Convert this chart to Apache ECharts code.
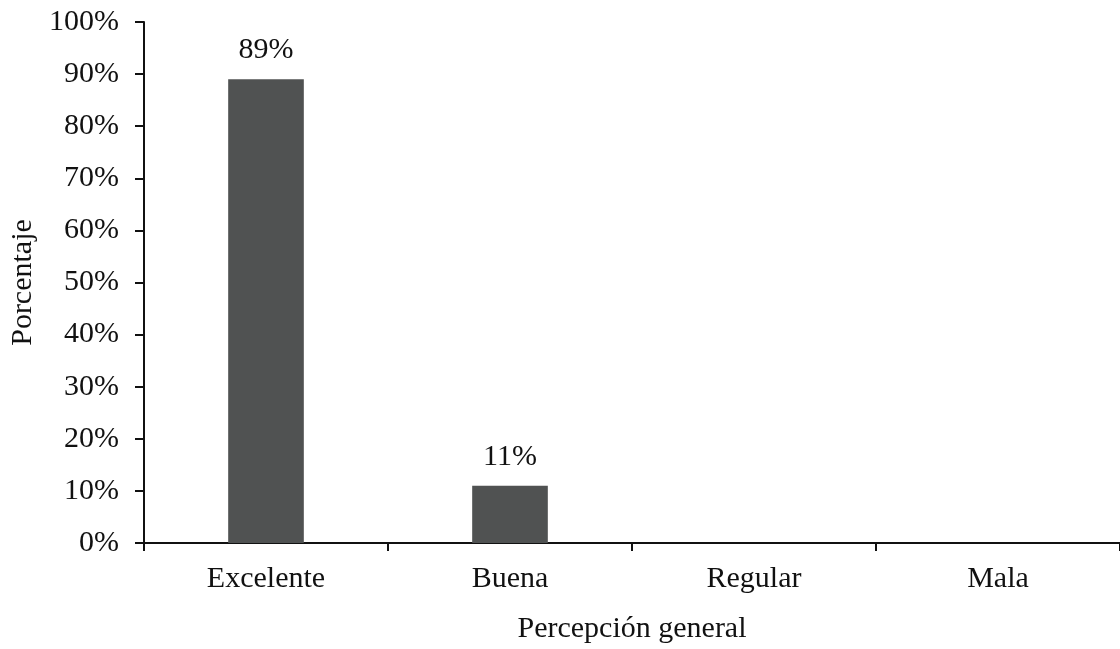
<!DOCTYPE html>
<html>
<head>
<meta charset="utf-8">
<script src="https://cdn.jsdelivr.net/npm/echarts@6/dist/echarts.min.js"></script>
<style>html,body{margin:0;padding:0;background:#fff}#c{width:1120px;height:649px}</style>
</head>
<body>
<div id="c"></div>
<script>
const categories = ['Excelente', 'Buena', 'Regular', 'Mala'];
const values = [89, 11, 0, 0];
const yTicks = [0, 10, 20, 30, 40, 50, 60, 70, 80, 90, 100];

const chart = echarts.init(document.getElementById('c'));
const font = '"Liberation Serif", "Times New Roman", serif';
chart.setOption({
  animation: false,
  backgroundColor: '#fff',
  grid: { left: 143, right: -2, top: 22, bottom: 105, containLabel: false },
  xAxis: {
    type: 'category',
    data: categories,
    name: 'Percepción general',
    nameLocation: 'middle',
    nameGap: 71,
    nameTextStyle: { fontFamily: font, fontSize: 30, color: '#111' },
    axisLine: { lineStyle: { color: '#111', width: 2 } },
    axisTick: { show: true, length: 8, alignWithLabel: false, lineStyle: { color: '#111', width: 2 } },
    axisLabel: { fontFamily: font, fontSize: 30, color: '#111', margin: 21 },
    splitLine: { show: false }
  },
  yAxis: {
    type: 'value',
    min: 0, max: 100, interval: 10,
    name: 'Porcentaje',
    nameLocation: 'middle',
    nameGap: 106,
    nameRotate: 90,
    nameTextStyle: { fontFamily: font, fontSize: 30, color: '#111' },
    axisLine: { show: true, lineStyle: { color: '#111', width: 2 } },
    axisTick: { show: true, length: 9, lineStyle: { color: '#111', width: 2 } },
    axisLabel: { fontFamily: font, fontSize: 30, color: '#111', margin: 25,
      formatter: v => yTicks.includes(v) ? v + '%' : '' },
    splitLine: { show: false }
  },
  series: [{
    type: 'bar',
    data: values.map(v => v === 0 ? null : v),
    barWidth: '31%',
    itemStyle: { color: '#505252' },
    label: { show: true, position: 'top', distance: 14, fontFamily: font, fontSize: 30, color: '#111',
      formatter: p => p.value + '%' }
  }]
});
</script>
</body>
</html>
